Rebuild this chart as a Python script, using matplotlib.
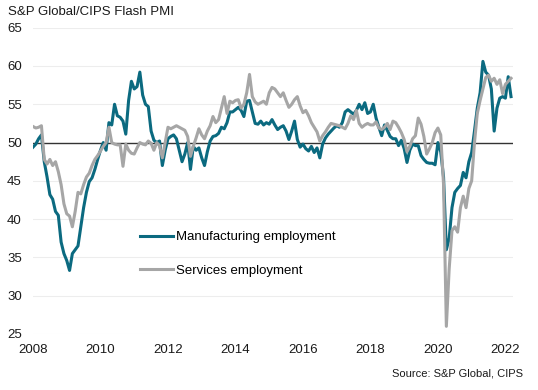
import matplotlib
matplotlib.use("Agg")
import matplotlib.pyplot as plt
import numpy as np

plt.rcParams['font.family'] = ['Liberation Sans', 'DejaVu Sans']

start_year = 2008
manufacturing = [
    49.4, 49.8, 50.5, 51.0, 47.5, 45.5, 43.2, 42.6, 41.0, 40.5, 37.0, 35.5,
    34.6, 33.3, 35.5, 36.0, 36.5, 39.0, 41.5, 43.5, 44.9, 45.4, 46.5, 47.8,
    49.0, 50.0, 49.0, 52.6, 52.3, 55.0, 53.5, 53.3, 52.8, 51.1, 55.5, 58.0,
    57.0, 57.3, 59.2, 56.2, 55.0, 54.7, 51.5, 50.3, 50.0, 50.2, 47.0, 49.0,
    50.5, 50.8, 51.0, 50.5, 49.0, 47.5, 48.5, 50.0, 46.5, 49.5, 49.0, 49.3,
    48.0, 47.0, 48.8, 50.2, 50.8, 50.9, 51.2, 52.0, 51.8, 52.6, 54.0, 54.0,
    54.3, 54.6, 54.2, 53.4, 55.4, 55.5, 54.0, 52.5, 52.4, 52.8, 52.3, 52.6,
    52.4, 53.0, 52.3, 51.7, 52.0, 52.2, 51.5, 50.4, 51.5, 52.8, 50.4, 49.4,
    49.8, 49.2, 48.9, 49.5, 48.7, 49.3, 48.0, 49.8, 50.6, 51.1, 51.5, 51.9,
    52.2, 52.0, 52.6, 54.0, 54.3, 54.0, 53.7, 54.2, 55.0, 54.3, 55.2, 53.8,
    54.0, 55.0, 53.2, 52.0, 50.9, 52.3, 51.6, 50.8, 50.5, 50.5, 49.6, 50.3,
    49.2, 47.4, 49.0, 49.8, 49.6, 49.6, 48.3, 47.8, 47.4, 47.3, 47.3, 47.1,
    50.0, 48.8, 45.5, 36.0, 37.5, 41.5, 43.5, 44.0, 44.4, 46.1, 45.4, 47.5,
    48.7, 51.5, 54.5, 56.5, 60.6, 59.2, 58.8, 57.0, 51.5, 54.5, 55.8, 56.0,
    55.8, 58.6, 56.0,
]
services = [
    52.1, 51.9, 52.0, 52.2, 47.8, 47.2, 47.8, 47.0, 47.5, 46.2, 44.5, 42.0,
    40.7, 40.4, 39.0, 41.0, 43.5, 43.3, 44.5, 45.5, 46.0, 47.0, 47.8, 48.3,
    48.9, 49.5, 50.0, 52.0, 50.0, 49.8, 49.7, 49.7, 46.9, 49.8, 49.0, 48.6,
    48.5, 49.3, 50.0, 49.8, 49.7, 50.2, 49.9, 49.0, 50.0, 49.6, 48.0, 50.0,
    52.0, 51.8, 52.0, 52.2, 52.0, 51.8, 51.6, 50.8, 48.2, 49.5, 50.6, 51.8,
    51.0, 50.5, 51.5, 52.2, 53.4, 52.6, 53.0, 54.5, 56.0, 53.8, 55.4, 55.2,
    55.5, 55.6, 54.5, 55.0, 56.5, 58.9, 56.0, 55.3, 55.0, 55.2, 55.4, 55.0,
    56.5, 57.2, 57.0, 56.5, 56.0, 56.5, 55.5, 54.6, 55.0, 55.6, 56.0, 54.8,
    53.9, 54.2, 53.5, 52.6, 52.0, 51.4, 50.2, 50.9, 51.4, 52.0, 52.5, 52.4,
    52.3, 52.2, 52.0, 51.8, 52.5, 53.5, 53.0, 54.2, 52.5, 52.0, 52.3, 52.5,
    52.3, 52.3, 52.7, 51.9, 51.7, 52.0, 52.5, 51.7, 52.8, 52.6, 52.0, 51.3,
    50.4, 48.8, 49.5, 50.5, 50.9, 53.2, 52.4, 50.8, 48.5, 49.2, 50.0, 51.3,
    51.9, 51.0, 44.5, 26.0, 33.5, 38.5, 39.0, 38.3, 41.5, 43.0, 41.5, 44.0,
    45.0, 50.0, 53.8, 55.5, 57.0, 58.5, 58.8, 58.0, 58.4, 57.6, 58.2, 56.4,
    57.6, 58.0, 58.4,
]
year_ticks = [2008, 2010, 2012, 2014, 2016, 2018, 2020, 2022]
y_ticks = [25, 30, 35, 40, 45, 50, 55, 60, 65]
labels = ["Manufacturing employment", "Services employment"]

x = start_year + np.arange(len(manufacturing)) / 12.0

fig = plt.figure(figsize=(5.38, 3.9), dpi=100)
ax = fig.add_axes([33/538, 1 - 334/390, 480/538, (334 - 27.7)/390])

for yv in y_ticks:
    ax.axhline(yv, color='#ededed', lw=0.8, zorder=0)
ax.axhline(50, color='#333333', lw=1.0, zorder=1)

ax.plot(x, manufacturing, color='#0b6a80', lw=2.2, label=labels[0], zorder=3)
ax.plot(x, services, color='#a6a6a6', lw=2.2, label=labels[1], zorder=4)

ax.set_xlim(2008, 2008 + 170.7/12)
ax.set_ylim(25, 65)
ax.set_xticks(year_ticks)
ax.set_xticklabels([str(v) for v in year_ticks])
ax.set_yticks(y_ticks)
ax.tick_params(axis='both', length=0, labelsize=9.5, colors='#1a1a1a')
ax.tick_params(axis='y', pad=8)
ax.tick_params(axis='x', pad=7)
for s in ax.spines.values():
    s.set_visible(False)

leg = ax.legend(loc='upper left', bbox_to_anchor=(140/538, 1 - 231/390),
                bbox_transform=fig.transFigure, frameon=False,
                fontsize=9.5, handlelength=2.5, handletextpad=0.25,
                labelspacing=1.6, borderpad=0, borderaxespad=0)

fig.text(8/538, 1 - 12/390, "S&P Global/CIPS Flash PMI", fontsize=9.5,
         ha='left', va='center', color='#1a1a1a')
fig.text(523/538, 1 - 374/390, "Source: S&P Global, CIPS", fontsize=8,
         ha='right', va='center', color='#1a1a1a')

fig.savefig("out.png", dpi=100)
